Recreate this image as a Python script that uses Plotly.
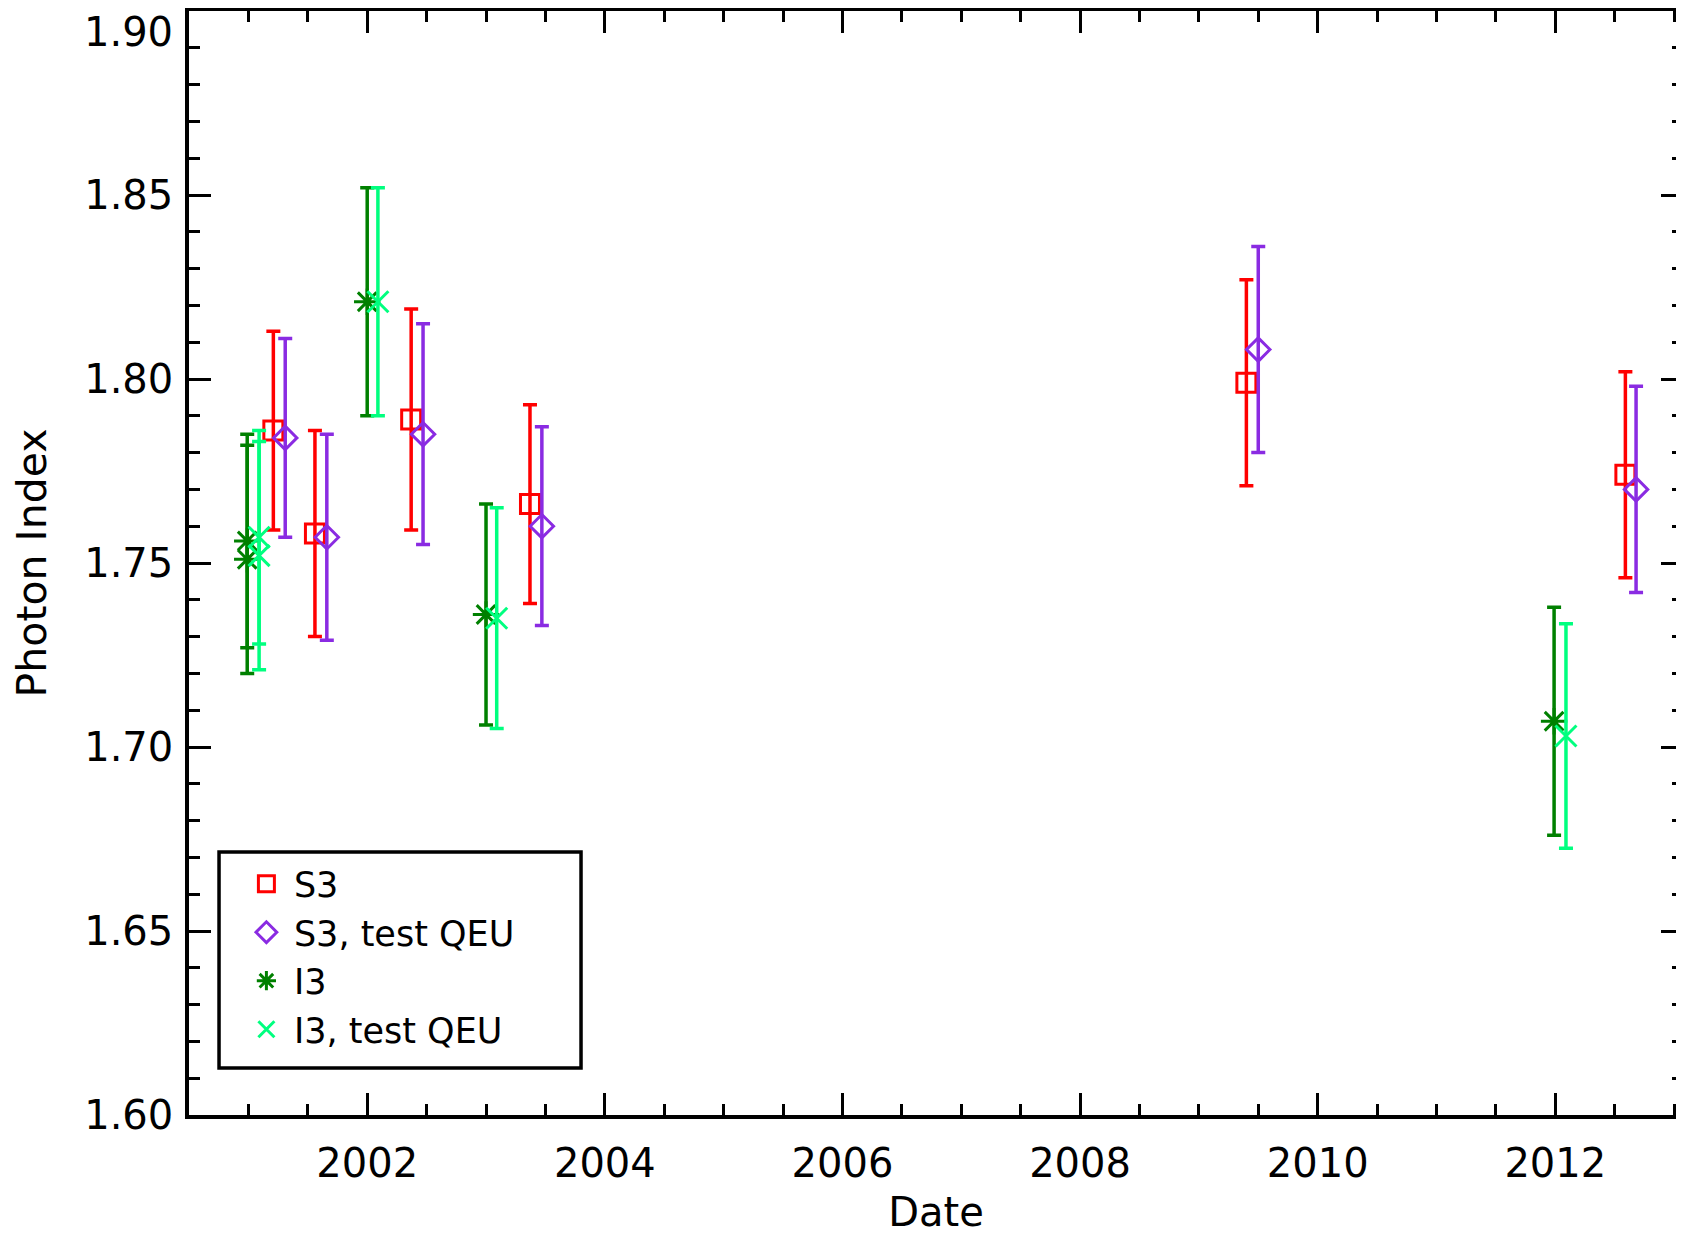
import plotly.graph_objects as go

# ---- data ----
s3_date = [2001.21, 2001.56, 2002.37, 2003.37, 2009.40, 2012.59]
s3_val = [1.786, 1.758, 1.789, 1.766, 1.799, 1.774]
s3_err = [0.027, 0.028, 0.030, 0.027, 0.028, 0.028]

s3q_date = [2001.31, 2001.66, 2002.47, 2003.47, 2009.50, 2012.68]
s3q_val = [1.784, 1.757, 1.785, 1.760, 1.808, 1.770]
s3q_err = [0.027, 0.028, 0.030, 0.027, 0.028, 0.028]

i3_date = [2000.99, 2000.99, 2002.00, 2003.00, 2011.99]
i3_val = [1.756, 1.751, 1.821, 1.736, 1.707]
i3_err = [0.029, 0.031, 0.031, 0.030, 0.031]

i3q_date = [2001.09, 2001.09, 2002.09, 2003.09, 2012.09]
i3q_val = [1.757, 1.752, 1.821, 1.735, 1.703]
i3q_err = [0.029, 0.031, 0.031, 0.030, 0.0305]

x_ticks = [2002, 2004, 2006, 2008, 2010, 2012]
y_ticks = [1.60, 1.65, 1.70, 1.75, 1.80, 1.85, 1.90]

FONT = "DejaVu Sans"
TICK_FS = 40

fig = go.Figure()

def add(name, x, y, e, color, symbol, size):
    fig.add_trace(go.Scatter(
        x=x, y=y, mode="markers", name=name,
        marker=dict(symbol=symbol, size=size, color=color,
                    line=dict(color=color, width=3)),
        error_y=dict(type="data", array=e, visible=True, color=color,
                     thickness=3.5, width=7),
    ))

add("S3", s3_date, s3_val, s3_err, "#ff0000", "square-open", 19)
add("S3, test QEU", s3q_date, s3q_val, s3q_err, "#8a2be2", "diamond-open", 18)
add("I3", i3_date, i3_val, i3_err, "#008000", "asterisk-open", 22)
add("I3, test QEU", i3q_date, i3q_val, i3q_err, "#00ff7f", "x-thin-open", 21)

axis_common = dict(
    showline=True, linewidth=3.5, linecolor="black", mirror="allticks",
    ticks="inside", ticklen=22, tickwidth=3, tickcolor="black",
    showgrid=False, zeroline=False, automargin=False,
    tickfont=dict(family=FONT, size=TICK_FS, color="black"),
)

fig.update_xaxes(
    range=[2000.5, 2013.075], tickvals=x_ticks, ticktext=[str(v) for v in x_ticks],
    minor=dict(ticks="inside", dtick=0.5, tick0=2000, ticklen=11, tickwidth=3,
               tickcolor="black", showgrid=False),
    title=dict(text="Date", font=dict(family=FONT, size=40, color="black"), standoff=25),
    ticklabelstandoff=10,
    **axis_common,
)
# the top label (1.90) is set as an annotation so it sits just under the top edge
fig.update_yaxes(
    range=[1.60, 1.90], tickvals=y_ticks,
    ticktext=[f"{v:.2f}" if v < 1.89 else "" for v in y_ticks],
    minor=dict(ticks="inside", dtick=0.01, tick0=1.6, ticklen=11, tickwidth=3,
               tickcolor="black", showgrid=False),
    title=dict(text="Photon Index", font=dict(family=FONT, size=41, color="black"), standoff=30),
    ticklabelstandoff=4,
    **axis_common,
)

fig.add_annotation(
    text=f"{y_ticks[-1]:.2f}", xref="paper", yref="y", x=0, y=y_ticks[-1],
    xanchor="right", yanchor="top", xshift=-14, yshift=4, showarrow=False,
    font=dict(family=FONT, size=TICK_FS, color="black"),
)

# legend frame
fig.add_shape(
    type="rect", xref="paper", yref="paper", x0=0.0201, x1=0.2624, y0=0.0426, y1=0.2382,
    line=dict(color="black", width=3.5), fillcolor="white", layer="below",
)

# page body has an 8px default margin
fig.update_layout(
    width=1684, height=1227,
    margin=dict(l=181, r=9, t=3, b=120),
    paper_bgcolor="white", plot_bgcolor="white",
    font=dict(family=FONT, size=38, color="black"),
    showlegend=True,
    legend=dict(
        x=0.0334, y=0.236, xanchor="left", yanchor="top",
        borderwidth=0, bgcolor="rgba(0,0,0,0)",
        font=dict(family=FONT, size=35, color="black"),
        itemwidth=45, tracegroupgap=0,
    ),
)

fig.write_html("out.html")
